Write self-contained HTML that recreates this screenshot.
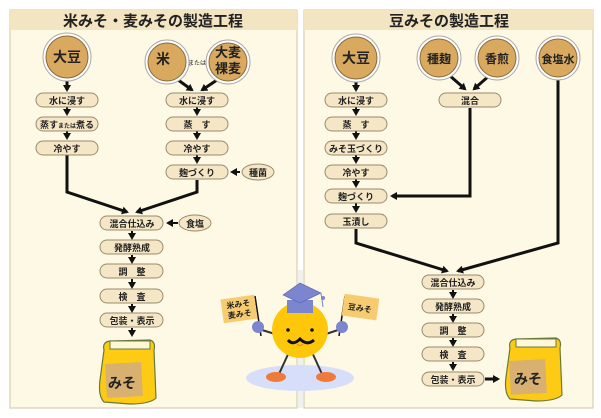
<!DOCTYPE html>
<html><head><meta charset="utf-8"><style>
html,body{margin:0;padding:0;background:#fff;}
svg{display:block}
text{font-family:"Liberation Sans","Noto Sans CJK JP",sans-serif;fill:#222;}
</style></head><body>
<svg width="601" height="418" viewBox="0 0 601 418" xmlns="http://www.w3.org/2000/svg">
<defs>
<marker id="ah" markerWidth="8" markerHeight="8" refX="5" refY="4" orient="auto" markerUnits="userSpaceOnUse"><path d="M0,0 L7,4 L0,8 Z" fill="#111"/></marker>
</defs>
<!-- panels -->
<rect x="10" y="10" width="287" height="398" fill="#fdf9e4" stroke="#cfc6a8"/>
<rect x="10" y="10" width="287" height="20" fill="#f3e4c2"/>
<rect x="304" y="10" width="289" height="398" fill="#fdf9e4" stroke="#cfc6a8"/>
<rect x="304" y="10" width="289" height="20" fill="#f3e4c2"/>
<text x="153" y="26" font-size="15" text-anchor="middle" font-weight="bold">米みそ・麦みその製造工程</text>
<text x="449" y="26" font-size="15" text-anchor="middle" font-weight="bold">豆みその製造工程</text>

<g stroke="#111" stroke-width="3" fill="none">
<!-- left panel lines -->
<path d="M67,80 V90" marker-end="url(#ah)"/>
<path d="M67,107 V114" stroke-width="2" marker-end="url(#ah)"/>
<path d="M67,131 V138" stroke-width="2" marker-end="url(#ah)"/>
<path d="M174,77 L192,90" marker-end="url(#ah)"/>
<path d="M220,78 L202,90" marker-end="url(#ah)"/>
<path d="M197,107 V114" stroke-width="2" marker-end="url(#ah)"/>
<path d="M197,131 V138" stroke-width="2" marker-end="url(#ah)"/>
<path d="M197,155 V162" stroke-width="2" marker-end="url(#ah)"/>
<path d="M240,172 H232" stroke-width="2" marker-end="url(#ah)"/>
<path d="M67,155 V192 L127,212" marker-end="url(#ah)"/>
<path d="M197,180 V192 L137,212" marker-end="url(#ah)"/>
<path d="M178,223 H168" stroke-width="2" marker-end="url(#ah)"/>
<path d="M132,231 V238" stroke-width="2" marker-end="url(#ah)"/>
<path d="M132,255 V262" stroke-width="2" marker-end="url(#ah)"/>
<path d="M132,279 V287" stroke-width="2" marker-end="url(#ah)"/>
<path d="M132,304 V311" stroke-width="2" marker-end="url(#ah)"/>
<path d="M132,328 V335" stroke-width="2" marker-end="url(#ah)"/>
<!-- right panel -->
<path d="M356,80 V90" marker-end="url(#ah)"/>
<path d="M356,107 V114" stroke-width="2" marker-end="url(#ah)"/>
<path d="M356,131 V138" stroke-width="2" marker-end="url(#ah)"/>
<path d="M356,155 V162" stroke-width="2" marker-end="url(#ah)"/>
<path d="M356,179 V186" stroke-width="2" marker-end="url(#ah)"/>
<path d="M356,203 V211" stroke-width="2" marker-end="url(#ah)"/>
<path d="M449,75 L465,89" marker-end="url(#ah)"/>
<path d="M490,75 L474,89" marker-end="url(#ah)"/>
<path d="M470,108 V196 H392" marker-end="url(#ah)"/>
<path d="M558,79 V243 L458,271" marker-end="url(#ah)"/>
<path d="M356,229 V243 L447,271" marker-end="url(#ah)"/>
<path d="M453,290 V297" stroke-width="2" marker-end="url(#ah)"/>
<path d="M453,314 V321" stroke-width="2" marker-end="url(#ah)"/>
<path d="M453,338 V345" stroke-width="2" marker-end="url(#ah)"/>
<path d="M453,362 V369" stroke-width="2" marker-end="url(#ah)"/>
<path d="M485,379 H498" marker-end="url(#ah)"/>
</g>

<!-- circles -->
<g font-size="13" font-weight="bold" text-anchor="middle">
<g stroke="#aaa" fill="#fff"><circle cx="67" cy="57" r="24"/><circle cx="167" cy="62" r="22"/><circle cx="228" cy="62" r="22"/>
<circle cx="356" cy="58" r="24"/><circle cx="439" cy="58" r="22"/><circle cx="497" cy="58" r="22"/><circle cx="558" cy="58" r="22"/></g>
<g stroke="#8a6a3a" fill="#d9a95f"><circle cx="67" cy="57" r="21"/><circle cx="167" cy="62" r="19"/><circle cx="228" cy="62" r="19"/>
<circle cx="356" cy="58" r="21"/><circle cx="439" cy="58" r="19"/><circle cx="497" cy="58" r="19"/><circle cx="558" cy="58" r="19"/></g>
<text x="67" y="62" font-size="14">大豆</text>
<text x="163" y="64" font-size="14">米</text>
<text x="228" y="57" font-size="13">大麦</text><text x="228" y="73" font-size="13">裸麦</text>
<text x="197" y="65" font-size="6" font-weight="normal">または</text>
<text x="356" y="63" font-size="14">大豆</text>
<text x="439" y="63" font-size="12">種麹</text>
<text x="497" y="63" font-size="12">香煎</text>
<text x="558" y="63" font-size="11">食塩水</text>
</g>

<!-- pills -->
<g fill="#f5e6c6" stroke="#9a8a6e" stroke-width="1">
<rect x="36" y="93" width="62" height="14" rx="7"/><rect x="36" y="117" width="62" height="14" rx="7"/><rect x="36" y="141" width="62" height="14" rx="7"/>
<rect x="166" y="93" width="62" height="14" rx="7"/><rect x="166" y="117" width="62" height="14" rx="7"/><rect x="166" y="141" width="62" height="14" rx="7"/><rect x="166" y="165" width="62" height="14" rx="7"/>
<ellipse cx="258" cy="172" rx="16" ry="8"/>
<rect x="100" y="216" width="63" height="14" rx="7"/><rect x="100" y="240" width="63" height="14" rx="7"/><rect x="100" y="264" width="63" height="14" rx="7"/><rect x="100" y="289" width="63" height="14" rx="7"/><rect x="100" y="313" width="63" height="14" rx="7"/>
<ellipse cx="195" cy="223" rx="16" ry="8"/>
<rect x="325" y="93" width="62" height="14" rx="7"/><rect x="325" y="117" width="62" height="14" rx="7"/><rect x="325" y="141" width="62" height="14" rx="7"/><rect x="325" y="165" width="62" height="14" rx="7"/><rect x="325" y="189" width="62" height="14" rx="7"/><rect x="325" y="214" width="62" height="14" rx="7"/>
<rect x="439" y="93" width="62" height="14" rx="7"/>
<rect x="422" y="275" width="62" height="14" rx="7"/><rect x="422" y="299" width="62" height="14" rx="7"/><rect x="422" y="323" width="62" height="14" rx="7"/><rect x="422" y="347" width="62" height="14" rx="7"/><rect x="422" y="372" width="62" height="14" rx="7"/>
</g>
<g font-size="9" text-anchor="middle" font-weight="bold">
<text x="67" y="104">水に浸す</text><text x="67" y="128">蒸す<tspan font-size="6">または</tspan>煮る</text><text x="67" y="152">冷やす</text>
<text x="197" y="104">水に浸す</text><text x="197" y="128">蒸　す</text><text x="197" y="152">冷やす</text><text x="197" y="176">麹づくり</text>
<text x="258" y="176">種菌</text>
<text x="132" y="227">混合仕込み</text><text x="132" y="251">発酵熟成</text><text x="132" y="275">調　整</text><text x="132" y="300">検　査</text><text x="132" y="324">包装・表示</text>
<text x="195" y="227">食塩</text>
<text x="356" y="104">水に浸す</text><text x="356" y="128">蒸　す</text><text x="356" y="152">みそ玉づくり</text><text x="356" y="176">冷やす</text><text x="356" y="200">麹づくり</text><text x="356" y="225">玉漬し</text>
<text x="470" y="104">混合</text>
<text x="453" y="286">混合仕込み</text><text x="453" y="310">発酵熟成</text><text x="453" y="334">調　整</text><text x="453" y="358">検　査</text><text x="453" y="383">包装・表示</text>
</g>

<!-- jars -->
<g>
<path d="M104,350 Q102,342 110,341 L150,340 Q156,342 154,350 L156,398 Q150,404 130,404 L104,402 Q98,396 100,380 Z" fill="#fecb14" stroke="#6a7a3a" stroke-width="1.2"/>
<rect x="110" y="341" width="40" height="8" fill="#fff8d8" stroke="#6a7a3a"/>
<rect x="106" y="363" width="36" height="34" fill="#d8b070" transform="rotate(-3 124 380)"/>
<text x="122" y="388" font-size="14" font-weight="bold" text-anchor="middle">みそ</text>
<path d="M510,348 Q508,340 516,339 L556,338 Q562,340 560,348 L562,395 Q556,401 536,401 L510,399 Q504,393 506,377 Z" fill="#fecb14" stroke="#6a7a3a" stroke-width="1.2"/>
<rect x="516" y="339" width="40" height="8" fill="#fff8d8" stroke="#6a7a3a"/>
<rect x="510" y="360" width="36" height="34" fill="#d8b070" transform="rotate(-3 528 377)"/>
<text x="528" y="384" font-size="14" font-weight="bold" text-anchor="middle">みそ</text>
</g>

<!-- character -->
<rect x="298" y="270" width="5" height="138" fill="#f0f0ec"/>
<ellipse cx="300" cy="378" rx="54" ry="13" fill="#d6defa"/>
<g stroke="#333" stroke-width="2"><line x1="290" y1="350" x2="279" y2="374"/><line x1="311" y1="350" x2="322" y2="374"/>
<line x1="262" y1="330" x2="275" y2="334"/><line x1="338" y1="330" x2="326" y2="334"/></g>
<ellipse cx="276" cy="377" rx="10" ry="5" fill="#ef7a3a"/><ellipse cx="326" cy="377" rx="10" ry="5" fill="#ef7a3a"/>
<circle cx="300" cy="330" r="28" fill="#fec70a"/>
<path d="M287,300 H313 V313 H287 Z" fill="#7b85d0"/>
<path d="M283,295 L300,283 L321,293 L300,303 Z" fill="#7b85d0" stroke="#5560a8" stroke-width="0.6"/>
<line x1="321" y1="293" x2="323" y2="307" stroke="#7b85d0"/><circle cx="323" cy="298" r="2" fill="#7b85d0"/>
<circle cx="288" cy="330" r="1.8" fill="#111"/><circle cx="312" cy="330" r="1.8" fill="#111"/>
<path d="M288,340 Q293,346 300,339 Q307,346 314,340" stroke="#111" stroke-width="3" fill="none"/>
<path d="M297,344 Q300,347 303,344" stroke="#ef7a3a" fill="none"/>
<line x1="255" y1="296" x2="261" y2="336" stroke="#111" stroke-width="1.5"/>
<line x1="345" y1="296" x2="339" y2="336" stroke="#111" stroke-width="1.5"/>
<rect x="222" y="297" width="34" height="24" fill="#f7cc70" transform="rotate(-8 239 309)"/>
<text x="239" y="307" font-size="8" font-weight="bold" text-anchor="middle" transform="rotate(-8 239 309)">米みそ</text>
<text x="239" y="317" font-size="8" font-weight="bold" text-anchor="middle" transform="rotate(-8 239 309)">麦みそ</text>
<rect x="343" y="296" width="35" height="22" fill="#f7cc70" transform="rotate(8 360 307)"/>
<text x="360" y="311" font-size="8" font-weight="bold" text-anchor="middle" transform="rotate(8 360 307)">豆みそ</text>
<circle cx="258" cy="327" r="6" fill="#7b85d0"/><circle cx="342" cy="327" r="6" fill="#7b85d0"/>
</svg>
</body></html>
